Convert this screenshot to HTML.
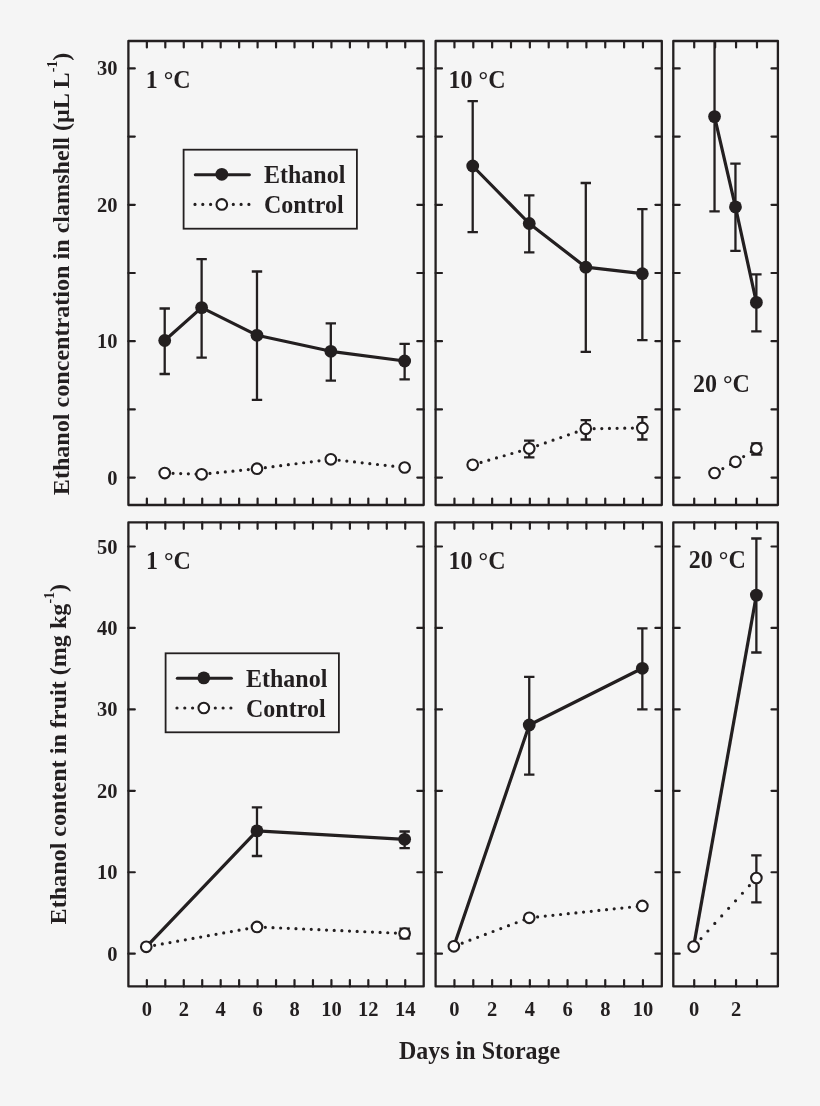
<!DOCTYPE html>
<html><head><meta charset="utf-8"><title>Ethanol chart</title>
<style>
html,body{margin:0;padding:0;background:#f5f5f5;}
svg{display:block;will-change:transform;}
text{font-family:"Liberation Serif",serif;font-weight:bold;fill:#231f20;}
.lab{font-size:24px;}
.tk{font-size:20.5px;}
.sup{font-size:14px;}
</style></head><body>
<svg width="820" height="1106" viewBox="0 0 820 1106">
<defs><clipPath id="c00"><rect x="128.4" y="41.0" width="295.30" height="464.00"/></clipPath><clipPath id="c01"><rect x="435.6" y="41.0" width="226.20" height="464.00"/></clipPath><clipPath id="c02"><rect x="673.3" y="41.0" width="104.60" height="464.00"/></clipPath><clipPath id="c10"><rect x="128.4" y="522.4" width="295.30" height="464.00"/></clipPath><clipPath id="c11"><rect x="435.6" y="522.4" width="226.20" height="464.00"/></clipPath><clipPath id="c12"><rect x="673.3" y="522.4" width="104.60" height="464.00"/></clipPath></defs>
<rect width="820" height="1106" fill="#f5f5f5"/>
<path d="M146.86 41.00v6.4M146.86 505.00v-6.4M165.31 41.00v6.4M165.31 505.00v-6.4M183.77 41.00v6.4M183.77 505.00v-6.4M202.22 41.00v6.4M202.22 505.00v-6.4M220.68 41.00v6.4M220.68 505.00v-6.4M239.14 41.00v6.4M239.14 505.00v-6.4M257.59 41.00v6.4M257.59 505.00v-6.4M276.05 41.00v6.4M276.05 505.00v-6.4M294.51 41.00v6.4M294.51 505.00v-6.4M312.96 41.00v6.4M312.96 505.00v-6.4M331.42 41.00v6.4M331.42 505.00v-6.4M349.88 41.00v6.4M349.88 505.00v-6.4M368.33 41.00v6.4M368.33 505.00v-6.4M386.79 41.00v6.4M386.79 505.00v-6.4M405.24 41.00v6.4M405.24 505.00v-6.4M128.40 477.60h6.4M423.70 477.60h-6.4M128.40 409.40h6.4M423.70 409.40h-6.4M128.40 341.20h6.4M423.70 341.20h-6.4M128.40 273.00h6.4M423.70 273.00h-6.4M128.40 204.80h6.4M423.70 204.80h-6.4M128.40 136.60h6.4M423.70 136.60h-6.4M128.40 68.40h6.4M423.70 68.40h-6.4" stroke="#231f20" stroke-width="2.2" stroke-linecap="round" fill="none"/>
<rect x="128.4" y="41.0" width="295.30" height="464.00" stroke="#231f20" stroke-width="2.3" stroke-linejoin="round" fill="none"/>
<path d="M454.45 41.00v6.4M454.45 505.00v-6.4M473.30 41.00v6.4M473.30 505.00v-6.4M492.15 41.00v6.4M492.15 505.00v-6.4M511.00 41.00v6.4M511.00 505.00v-6.4M529.85 41.00v6.4M529.85 505.00v-6.4M548.70 41.00v6.4M548.70 505.00v-6.4M567.55 41.00v6.4M567.55 505.00v-6.4M586.40 41.00v6.4M586.40 505.00v-6.4M605.25 41.00v6.4M605.25 505.00v-6.4M624.10 41.00v6.4M624.10 505.00v-6.4M642.95 41.00v6.4M642.95 505.00v-6.4M435.60 477.60h6.4M661.80 477.60h-6.4M435.60 409.40h6.4M661.80 409.40h-6.4M435.60 341.20h6.4M661.80 341.20h-6.4M435.60 273.00h6.4M661.80 273.00h-6.4M435.60 204.80h6.4M661.80 204.80h-6.4M435.60 136.60h6.4M661.80 136.60h-6.4M435.60 68.40h6.4M661.80 68.40h-6.4" stroke="#231f20" stroke-width="2.2" stroke-linecap="round" fill="none"/>
<rect x="435.6" y="41.0" width="226.20" height="464.00" stroke="#231f20" stroke-width="2.3" stroke-linejoin="round" fill="none"/>
<path d="M694.22 41.00v6.4M694.22 505.00v-6.4M715.14 41.00v6.4M715.14 505.00v-6.4M736.06 41.00v6.4M736.06 505.00v-6.4M756.98 41.00v6.4M756.98 505.00v-6.4M673.30 477.60h6.4M777.90 477.60h-6.4M673.30 409.40h6.4M777.90 409.40h-6.4M673.30 341.20h6.4M777.90 341.20h-6.4M673.30 273.00h6.4M777.90 273.00h-6.4M673.30 204.80h6.4M777.90 204.80h-6.4M673.30 136.60h6.4M777.90 136.60h-6.4M673.30 68.40h6.4M777.90 68.40h-6.4" stroke="#231f20" stroke-width="2.2" stroke-linecap="round" fill="none"/>
<rect x="673.3" y="41.0" width="104.60" height="464.00" stroke="#231f20" stroke-width="2.3" stroke-linejoin="round" fill="none"/>
<path d="M146.86 522.40v6.4M146.86 986.40v-6.4M165.31 522.40v6.4M165.31 986.40v-6.4M183.77 522.40v6.4M183.77 986.40v-6.4M202.22 522.40v6.4M202.22 986.40v-6.4M220.68 522.40v6.4M220.68 986.40v-6.4M239.14 522.40v6.4M239.14 986.40v-6.4M257.59 522.40v6.4M257.59 986.40v-6.4M276.05 522.40v6.4M276.05 986.40v-6.4M294.51 522.40v6.4M294.51 986.40v-6.4M312.96 522.40v6.4M312.96 986.40v-6.4M331.42 522.40v6.4M331.42 986.40v-6.4M349.88 522.40v6.4M349.88 986.40v-6.4M368.33 522.40v6.4M368.33 986.40v-6.4M386.79 522.40v6.4M386.79 986.40v-6.4M405.24 522.40v6.4M405.24 986.40v-6.4M128.40 953.70h6.4M423.70 953.70h-6.4M128.40 872.26h6.4M423.70 872.26h-6.4M128.40 790.82h6.4M423.70 790.82h-6.4M128.40 709.38h6.4M423.70 709.38h-6.4M128.40 627.94h6.4M423.70 627.94h-6.4M128.40 546.50h6.4M423.70 546.50h-6.4" stroke="#231f20" stroke-width="2.2" stroke-linecap="round" fill="none"/>
<rect x="128.4" y="522.4" width="295.30" height="464.00" stroke="#231f20" stroke-width="2.3" stroke-linejoin="round" fill="none"/>
<path d="M454.45 522.40v6.4M454.45 986.40v-6.4M473.30 522.40v6.4M473.30 986.40v-6.4M492.15 522.40v6.4M492.15 986.40v-6.4M511.00 522.40v6.4M511.00 986.40v-6.4M529.85 522.40v6.4M529.85 986.40v-6.4M548.70 522.40v6.4M548.70 986.40v-6.4M567.55 522.40v6.4M567.55 986.40v-6.4M586.40 522.40v6.4M586.40 986.40v-6.4M605.25 522.40v6.4M605.25 986.40v-6.4M624.10 522.40v6.4M624.10 986.40v-6.4M642.95 522.40v6.4M642.95 986.40v-6.4M435.60 953.70h6.4M661.80 953.70h-6.4M435.60 872.26h6.4M661.80 872.26h-6.4M435.60 790.82h6.4M661.80 790.82h-6.4M435.60 709.38h6.4M661.80 709.38h-6.4M435.60 627.94h6.4M661.80 627.94h-6.4M435.60 546.50h6.4M661.80 546.50h-6.4" stroke="#231f20" stroke-width="2.2" stroke-linecap="round" fill="none"/>
<rect x="435.6" y="522.4" width="226.20" height="464.00" stroke="#231f20" stroke-width="2.3" stroke-linejoin="round" fill="none"/>
<path d="M694.22 522.40v6.4M694.22 986.40v-6.4M715.14 522.40v6.4M715.14 986.40v-6.4M736.06 522.40v6.4M736.06 986.40v-6.4M756.98 522.40v6.4M756.98 986.40v-6.4M673.30 953.70h6.4M777.90 953.70h-6.4M673.30 872.26h6.4M777.90 872.26h-6.4M673.30 790.82h6.4M777.90 790.82h-6.4M673.30 709.38h6.4M777.90 709.38h-6.4M673.30 627.94h6.4M777.90 627.94h-6.4M673.30 546.50h6.4M777.90 546.50h-6.4" stroke="#231f20" stroke-width="2.2" stroke-linecap="round" fill="none"/>
<rect x="673.3" y="522.4" width="104.60" height="464.00" stroke="#231f20" stroke-width="2.3" stroke-linejoin="round" fill="none"/>
<g clip-path="url(#c00)"><path d="M164.71 308.50V374.00M159.51 308.50h10.4M159.51 374.00h10.4" stroke="#231f20" stroke-width="2.3" fill="none"/><path d="M201.62 259.20V357.60M196.43 259.20h10.4M196.43 357.60h10.4" stroke="#231f20" stroke-width="2.3" fill="none"/><path d="M256.99 271.50V399.80M251.79 271.50h10.4M251.79 399.80h10.4" stroke="#231f20" stroke-width="2.3" fill="none"/><path d="M330.82 323.40V380.70M325.62 323.40h10.4M325.62 380.70h10.4" stroke="#231f20" stroke-width="2.3" fill="none"/><path d="M404.64 343.90V379.40M399.44 343.90h10.4M399.44 379.40h10.4" stroke="#231f20" stroke-width="2.3" fill="none"/><polyline points="164.71,340.50 201.62,307.60 256.99,335.30 330.82,351.30 404.64,361.00" stroke="#231f20" stroke-width="3.2" fill="none" stroke-linejoin="round"/><line x1="164.71" y1="473.10" x2="201.62" y2="474.30" stroke="#231f20" stroke-width="3.2" stroke-dasharray="0 7.655" stroke-dashoffset="-0.7" stroke-linecap="round"/><line x1="201.62" y1="474.30" x2="256.99" y2="468.70" stroke="#231f20" stroke-width="3.2" stroke-dasharray="0 7.698" stroke-dashoffset="-0.7" stroke-linecap="round"/><line x1="256.99" y1="468.70" x2="330.82" y2="459.30" stroke="#231f20" stroke-width="3.2" stroke-dasharray="0 7.726" stroke-dashoffset="-0.7" stroke-linecap="round"/><line x1="330.82" y1="459.30" x2="404.64" y2="467.50" stroke="#231f20" stroke-width="3.2" stroke-dasharray="0 7.708" stroke-dashoffset="-0.7" stroke-linecap="round"/><circle cx="164.71" cy="340.50" r="6.4" fill="#231f20"/><circle cx="201.62" cy="307.60" r="6.4" fill="#231f20"/><circle cx="256.99" cy="335.30" r="6.4" fill="#231f20"/><circle cx="330.82" cy="351.30" r="6.4" fill="#231f20"/><circle cx="404.64" cy="361.00" r="6.4" fill="#231f20"/><circle cx="164.71" cy="473.10" r="5.3" fill="#fff" stroke="#231f20" stroke-width="2.1"/><circle cx="201.62" cy="474.30" r="5.3" fill="#fff" stroke="#231f20" stroke-width="2.1"/><circle cx="256.99" cy="468.70" r="5.3" fill="#fff" stroke="#231f20" stroke-width="2.1"/><circle cx="330.82" cy="459.30" r="5.3" fill="#fff" stroke="#231f20" stroke-width="2.1"/><circle cx="404.64" cy="467.50" r="5.3" fill="#fff" stroke="#231f20" stroke-width="2.1"/></g>
<g clip-path="url(#c01)"><path d="M472.70 101.10V232.10M467.50 101.10h10.4M467.50 232.10h10.4" stroke="#231f20" stroke-width="2.3" fill="none"/><path d="M529.25 195.30V252.30M524.05 195.30h10.4M524.05 252.30h10.4" stroke="#231f20" stroke-width="2.3" fill="none"/><path d="M585.80 183.00V351.90M580.60 183.00h10.4M580.60 351.90h10.4" stroke="#231f20" stroke-width="2.3" fill="none"/><path d="M642.35 209.10V340.10M637.15 209.10h10.4M637.15 340.10h10.4" stroke="#231f20" stroke-width="2.3" fill="none"/><path d="M529.25 440.60V457.40M524.05 440.60h10.4M524.05 457.40h10.4" stroke="#231f20" stroke-width="2.3" fill="none"/><path d="M585.80 420.20V439.50M580.60 420.20h10.4M580.60 439.50h10.4" stroke="#231f20" stroke-width="2.3" fill="none"/><path d="M642.35 417.20V439.50M637.15 417.20h10.4M637.15 439.50h10.4" stroke="#231f20" stroke-width="2.3" fill="none"/><polyline points="472.70,166.00 529.25,223.50 585.80,267.20 642.35,273.70" stroke="#231f20" stroke-width="3.2" fill="none" stroke-linejoin="round"/><line x1="472.70" y1="464.80" x2="529.25" y2="448.50" stroke="#231f20" stroke-width="3.2" stroke-dasharray="0 8.014" stroke-dashoffset="-0.7" stroke-linecap="round"/><line x1="529.25" y1="448.50" x2="585.80" y2="428.80" stroke="#231f20" stroke-width="3.2" stroke-dasharray="0 8.163" stroke-dashoffset="-0.7" stroke-linecap="round"/><line x1="585.80" y1="428.80" x2="642.35" y2="427.90" stroke="#231f20" stroke-width="3.2" stroke-dasharray="0 7.651" stroke-dashoffset="-0.7" stroke-linecap="round"/><circle cx="472.70" cy="166.00" r="6.4" fill="#231f20"/><circle cx="529.25" cy="223.50" r="6.4" fill="#231f20"/><circle cx="585.80" cy="267.20" r="6.4" fill="#231f20"/><circle cx="642.35" cy="273.70" r="6.4" fill="#231f20"/><circle cx="472.70" cy="464.80" r="5.3" fill="#fff" stroke="#231f20" stroke-width="2.1"/><circle cx="529.25" cy="448.50" r="5.3" fill="#fff" stroke="#231f20" stroke-width="2.1"/><circle cx="585.80" cy="428.80" r="5.3" fill="#fff" stroke="#231f20" stroke-width="2.1"/><circle cx="642.35" cy="427.90" r="5.3" fill="#fff" stroke="#231f20" stroke-width="2.1"/></g>
<g clip-path="url(#c02)"><path d="M714.54 20.00V211.40M709.34 20.00h10.4M709.34 211.40h10.4" stroke="#231f20" stroke-width="2.3" fill="none"/><path d="M735.46 163.60V250.80M730.26 163.60h10.4M730.26 250.80h10.4" stroke="#231f20" stroke-width="2.3" fill="none"/><path d="M756.38 274.30V331.30M751.18 274.30h10.4M751.18 331.30h10.4" stroke="#231f20" stroke-width="2.3" fill="none"/><path d="M756.38 443.50V454.50M751.18 443.50h10.4M751.18 454.50h10.4" stroke="#231f20" stroke-width="2.3" fill="none"/><polyline points="714.54,116.60 735.46,206.90 756.38,302.40" stroke="#231f20" stroke-width="3.2" fill="none" stroke-linejoin="round"/><line x1="714.54" y1="473.00" x2="735.46" y2="461.80" stroke="#231f20" stroke-width="3.2" stroke-dasharray="0 8.707" stroke-dashoffset="-0.7" stroke-linecap="round"/><line x1="735.46" y1="461.80" x2="756.38" y2="448.40" stroke="#231f20" stroke-width="3.2" stroke-dasharray="0 9.030" stroke-dashoffset="-0.7" stroke-linecap="round"/><circle cx="714.54" cy="116.60" r="6.4" fill="#231f20"/><circle cx="735.46" cy="206.90" r="6.4" fill="#231f20"/><circle cx="756.38" cy="302.40" r="6.4" fill="#231f20"/><circle cx="714.54" cy="473.00" r="5.3" fill="#fff" stroke="#231f20" stroke-width="2.1"/><circle cx="735.46" cy="461.80" r="5.3" fill="#fff" stroke="#231f20" stroke-width="2.1"/><circle cx="756.38" cy="448.40" r="5.3" fill="#fff" stroke="#231f20" stroke-width="2.1"/></g>
<g clip-path="url(#c10)"><path d="M256.99 807.30V856.00M251.79 807.30h10.4M251.79 856.00h10.4" stroke="#231f20" stroke-width="2.3" fill="none"/><path d="M404.64 831.50V848.10M399.44 831.50h10.4M399.44 848.10h10.4" stroke="#231f20" stroke-width="2.3" fill="none"/><path d="M404.64 928.60V938.40M399.44 928.60h10.4M399.44 938.40h10.4" stroke="#231f20" stroke-width="2.3" fill="none"/><polyline points="146.26,946.80 256.99,830.90 404.64,839.30" stroke="#231f20" stroke-width="3.2" fill="none" stroke-linejoin="round"/><line x1="146.26" y1="946.80" x2="256.99" y2="926.95" stroke="#231f20" stroke-width="3.2" stroke-dasharray="0 7.798" stroke-dashoffset="-0.7" stroke-linecap="round"/><line x1="256.99" y1="926.95" x2="404.64" y2="933.50" stroke="#231f20" stroke-width="3.2" stroke-dasharray="0 7.659" stroke-dashoffset="-0.7" stroke-linecap="round"/><circle cx="256.99" cy="830.90" r="6.4" fill="#231f20"/><circle cx="404.64" cy="839.30" r="6.4" fill="#231f20"/><circle cx="146.26" cy="946.80" r="5.3" fill="#fff" stroke="#231f20" stroke-width="2.1"/><circle cx="256.99" cy="926.95" r="5.3" fill="#fff" stroke="#231f20" stroke-width="2.1"/><circle cx="404.64" cy="933.50" r="5.3" fill="#fff" stroke="#231f20" stroke-width="2.1"/></g>
<g clip-path="url(#c11)"><path d="M529.25 676.90V774.70M524.05 676.90h10.4M524.05 774.70h10.4" stroke="#231f20" stroke-width="2.3" fill="none"/><path d="M642.35 628.30V709.40M637.15 628.30h10.4M637.15 709.40h10.4" stroke="#231f20" stroke-width="2.3" fill="none"/><polyline points="453.85,946.30 529.25,725.00 642.35,668.30" stroke="#231f20" stroke-width="3.2" fill="none" stroke-linejoin="round"/><line x1="453.85" y1="946.30" x2="529.25" y2="917.80" stroke="#231f20" stroke-width="3.2" stroke-dasharray="0 8.243" stroke-dashoffset="-0.7" stroke-linecap="round"/><line x1="529.25" y1="917.80" x2="642.35" y2="905.90" stroke="#231f20" stroke-width="3.2" stroke-dasharray="0 7.702" stroke-dashoffset="-0.7" stroke-linecap="round"/><circle cx="529.25" cy="725.00" r="6.4" fill="#231f20"/><circle cx="642.35" cy="668.30" r="6.4" fill="#231f20"/><circle cx="453.85" cy="946.30" r="5.3" fill="#fff" stroke="#231f20" stroke-width="2.1"/><circle cx="529.25" cy="917.80" r="5.3" fill="#fff" stroke="#231f20" stroke-width="2.1"/><circle cx="642.35" cy="905.90" r="5.3" fill="#fff" stroke="#231f20" stroke-width="2.1"/></g>
<g clip-path="url(#c12)"><path d="M756.38 538.50V652.50M751.18 538.50h10.4M751.18 652.50h10.4" stroke="#231f20" stroke-width="2.3" fill="none"/><path d="M756.38 855.40V902.40M751.18 855.40h10.4M751.18 902.40h10.4" stroke="#231f20" stroke-width="2.3" fill="none"/><polyline points="693.62,946.60 756.38,595.10" stroke="#231f20" stroke-width="3.2" fill="none" stroke-linejoin="round"/><line x1="693.62" y1="946.60" x2="756.38" y2="878.00" stroke="#231f20" stroke-width="3.2" stroke-dasharray="0 10.232" stroke-dashoffset="-0.7" stroke-linecap="round"/><circle cx="756.38" cy="595.10" r="6.4" fill="#231f20"/><circle cx="693.62" cy="946.60" r="5.3" fill="#fff" stroke="#231f20" stroke-width="2.1"/><circle cx="756.38" cy="878.00" r="5.3" fill="#fff" stroke="#231f20" stroke-width="2.1"/></g>
<rect x="183.60" y="149.70" width="173.3" height="79.0" stroke="#231f20" stroke-width="1.8" fill="none"/><line x1="195.30" y1="174.70" x2="249.40" y2="174.70" stroke="#231f20" stroke-width="3" stroke-linecap="round"/><circle cx="221.80" cy="174.30" r="6.4" fill="#231f20"/><path d="M195.00 204.40h15.6M233.30 204.40h15.6" stroke="#231f20" stroke-width="3.2" stroke-dasharray="0 7.8" stroke-linecap="round"/><circle cx="221.80" cy="204.40" r="5.3" fill="#fff" stroke="#231f20" stroke-width="2.1"/><text transform="translate(264.00 182.90) scale(1 1.025)" class="lab">Ethanol</text><text transform="translate(264.00 213.00) scale(1 1.025)" class="lab">Control</text>
<rect x="165.60" y="653.30" width="173.3" height="79.0" stroke="#231f20" stroke-width="1.8" fill="none"/><line x1="177.30" y1="678.30" x2="231.40" y2="678.30" stroke="#231f20" stroke-width="3" stroke-linecap="round"/><circle cx="203.80" cy="677.90" r="6.4" fill="#231f20"/><path d="M177.00 708.00h15.6M215.30 708.00h15.6" stroke="#231f20" stroke-width="3.2" stroke-dasharray="0 7.8" stroke-linecap="round"/><circle cx="203.80" cy="708.00" r="5.3" fill="#fff" stroke="#231f20" stroke-width="2.1"/><text transform="translate(246.00 686.50) scale(1 1.025)" class="lab">Ethanol</text><text transform="translate(246.00 716.60) scale(1 1.025)" class="lab">Control</text>
<text transform="translate(145.70 87.80) scale(1 1.025)" class="lab">1 °C</text>
<text transform="translate(448.60 87.80) scale(1 1.025)" class="lab">10 °C</text>
<text transform="translate(693.00 392.30) scale(1 1.025)" class="lab">20 °C</text>
<text transform="translate(145.90 568.80) scale(1 1.025)" class="lab">1 °C</text>
<text transform="translate(448.60 568.80) scale(1 1.025)" class="lab">10 °C</text>
<text transform="translate(688.80 568.20) scale(1 1.025)" class="lab">20 °C</text>
<text x="117.6" y="484.60" class="tk" text-anchor="end">0</text>
<text x="117.6" y="348.20" class="tk" text-anchor="end">10</text>
<text x="117.6" y="211.80" class="tk" text-anchor="end">20</text>
<text x="117.6" y="75.40" class="tk" text-anchor="end">30</text>
<text x="117.6" y="960.70" class="tk" text-anchor="end">0</text>
<text x="117.6" y="879.26" class="tk" text-anchor="end">10</text>
<text x="117.6" y="797.82" class="tk" text-anchor="end">20</text>
<text x="117.6" y="716.38" class="tk" text-anchor="end">30</text>
<text x="117.6" y="634.94" class="tk" text-anchor="end">40</text>
<text x="117.6" y="553.50" class="tk" text-anchor="end">50</text>
<text x="146.86" y="1016.2" class="tk" text-anchor="middle">0</text>
<text x="183.77" y="1016.2" class="tk" text-anchor="middle">2</text>
<text x="220.68" y="1016.2" class="tk" text-anchor="middle">4</text>
<text x="257.59" y="1016.2" class="tk" text-anchor="middle">6</text>
<text x="294.51" y="1016.2" class="tk" text-anchor="middle">8</text>
<text x="331.42" y="1016.2" class="tk" text-anchor="middle">10</text>
<text x="368.33" y="1016.2" class="tk" text-anchor="middle">12</text>
<text x="405.24" y="1016.2" class="tk" text-anchor="middle">14</text>
<text x="454.45" y="1016.2" class="tk" text-anchor="middle">0</text>
<text x="492.15" y="1016.2" class="tk" text-anchor="middle">2</text>
<text x="529.85" y="1016.2" class="tk" text-anchor="middle">4</text>
<text x="567.55" y="1016.2" class="tk" text-anchor="middle">6</text>
<text x="605.25" y="1016.2" class="tk" text-anchor="middle">8</text>
<text x="642.95" y="1016.2" class="tk" text-anchor="middle">10</text>
<text x="694.22" y="1016.2" class="tk" text-anchor="middle">0</text>
<text x="736.06" y="1016.2" class="tk" text-anchor="middle">2</text>
<text transform="translate(479.60 1059.00) scale(1 1.025)" class="lab" text-anchor="middle">Days in Storage</text>
<text transform="translate(68.9 495.2) rotate(-90) scale(1.005 1)" class="lab">Ethanol concentration in clamshell (μL L<tspan class="sup" dy="-12">-1</tspan><tspan dy="12">)</tspan></text>
<text transform="translate(65.9 924.4) rotate(-90) scale(1.005 1)" class="lab">Ethanol content in fruit (mg kg<tspan class="sup" dy="-12">-1</tspan><tspan dy="12">)</tspan></text>
</svg>
</body></html>
